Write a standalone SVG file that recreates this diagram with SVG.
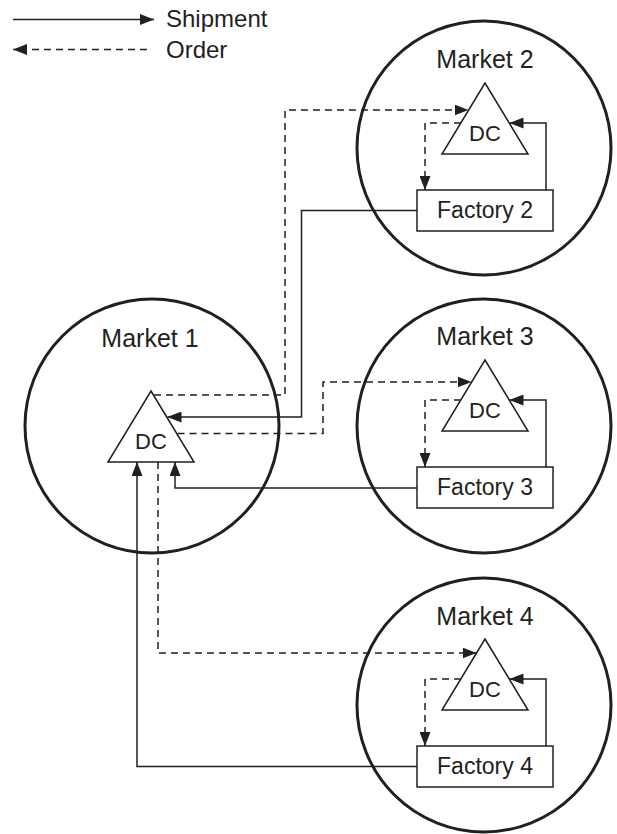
<svg xmlns="http://www.w3.org/2000/svg" width="617" height="834" viewBox="0 0 617 834">
<style>
  .bg{fill:#fff}
  .mkt{fill:none;stroke:#231f20;stroke-width:3}
  .box{fill:#fff;stroke:#231f20;stroke-width:1.5}
  .ship{fill:none;stroke:#231f20;stroke-width:1.5;marker-end:url(#ah)}
  .order{fill:none;stroke:#231f20;stroke-width:1.5;stroke-dasharray:7 5;marker-end:url(#ah)}
  text{font-family:"Liberation Sans",Arial,sans-serif;fill:#231f20;text-anchor:middle}
  .lbl{font-size:25px}
  .fac{font-size:23px}
  .dc{font-size:22px}
  .leg{font-size:24px;text-anchor:start}
</style>
<defs>
  <marker id="ah" viewBox="0 0 14 11" refX="14" refY="5.5" markerWidth="14" markerHeight="11" orient="auto" markerUnits="userSpaceOnUse">
    <path d="M0,0 L14,5.5 L0,11 z" fill="#231f20"/>
  </marker>
</defs>
<rect class="bg" x="0" y="0" width="617" height="834"/>

<g id="legend">
  <path class="ship" d="M13,19.5 H154"/>
  <text class="leg" x="166" y="27">Shipment</text>
  <path class="order" d="M147,49.5 H13"/>
  <text class="leg" x="166" y="58">Order</text>
</g>

<g id="market1"><circle class="mkt" cx="152" cy="426" r="127"/><text class="lbl" x="150" y="347">Market 1</text></g>
<g id="market2"><circle class="mkt" cx="484" cy="148" r="127"/><text class="lbl" x="485" y="68">Market 2</text></g>
<g id="market3"><circle class="mkt" cx="484" cy="426" r="127"/><text class="lbl" x="485" y="345">Market 3</text></g>
<g id="market4"><circle class="mkt" cx="484" cy="705" r="127"/><text class="lbl" x="485" y="625">Market 4</text></g>

<g id="connectors">
  <path class="order" d="M461,123 H425 V190"/>
  <path class="ship" d="M546,190 V123 H509.5"/>
  <path class="order" d="M461,400 H425 V467"/>
  <path class="ship" d="M546,467 V400 H509.5"/>
  <path class="order" d="M461,679 H425 V746"/>
  <path class="ship" d="M546,746 V679 H509.5"/>
  <path class="order" d="M154,395 H285 V110 H468.5"/>
  <path class="ship" d="M417,210.5 H301.5 V417 H167.5"/>
  <path class="order" d="M177.5,433.5 H323 V382 H471.5"/>
  <path class="ship" d="M417,488 H175 V462"/>
  <path class="ship" d="M417,766.5 H137 V462"/>
  <path class="order" d="M158,462 V653 H476.5"/>
</g>

<g id="dc1"><path class="box" d="M151,391 L194,462 L108,462 Z"/><text class="dc" x="151" y="449">DC</text></g>
<g id="dc2"><path class="box" d="M485,83 L528,154 L442,154 Z"/><text class="dc" x="485" y="141">DC</text></g>
<g id="dc3"><path class="box" d="M485,360 L528,431 L442,431 Z"/><text class="dc" x="485" y="418">DC</text></g>
<g id="dc4"><path class="box" d="M485,639 L528,710 L442,710 Z"/><text class="dc" x="485" y="697">DC</text></g>

<g id="factory2"><rect class="box" x="417" y="190" width="136" height="41"/><text class="fac" x="485" y="218">Factory 2</text></g>
<g id="factory3"><rect class="box" x="417" y="467" width="136" height="41"/><text class="fac" x="485" y="495">Factory 3</text></g>
<g id="factory4"><rect class="box" x="417" y="746" width="136" height="41"/><text class="fac" x="485" y="774">Factory 4</text></g>
</svg>
